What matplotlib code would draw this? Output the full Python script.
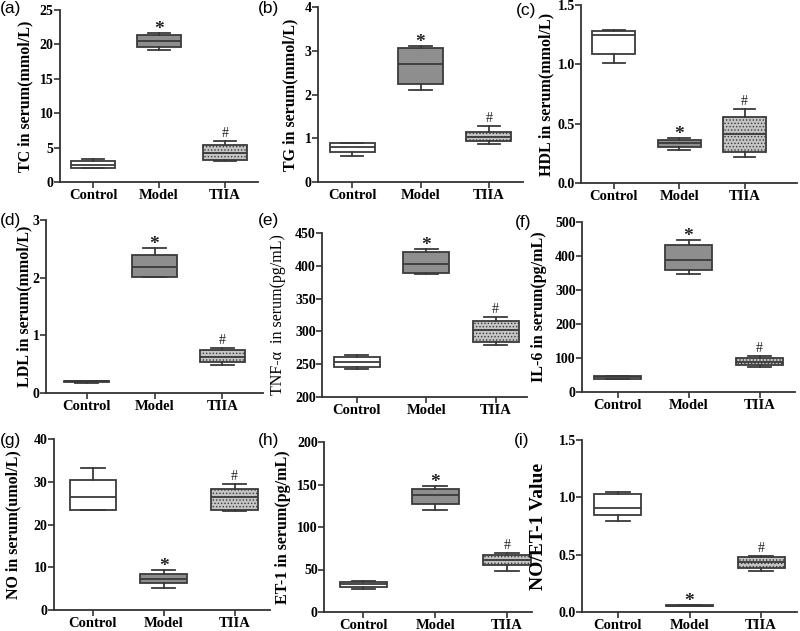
import matplotlib.pyplot as plt
import numpy as np

plt.rcParams['font.family'] = 'Liberation Serif'
plt.rcParams['font.weight'] = 'bold'
plt.rcParams['hatch.color'] = '#8a8a8a'
plt.rcParams['hatch.linewidth'] = 0.6

groups = ['Control', 'Model', 'TIIA']
marks = ['', '*', '#']

# each box: (whisker low, q1, median, q3, whisker high)
tc = [(2.0, 2.1, 2.5, 3.05, 3.35), (19.2, 19.6, 20.5, 21.3, 21.7), (3.05, 3.2, 4.2, 5.4, 6.0)]
tg = [(0.59, 0.69, 0.79, 0.89, 0.89), (2.10, 2.25, 2.70, 3.06, 3.12), (0.88, 0.94, 1.04, 1.15, 1.27)]
hdl = [(1.015, 1.09, 1.25, 1.28, 1.29), (0.275, 0.30, 0.34, 0.36, 0.38), (0.215, 0.26, 0.41, 0.555, 0.62)]
ldl = [(0.18, 0.19, 0.20, 0.21, 0.215), (2.01, 2.02, 2.19, 2.40, 2.51), (0.48, 0.53, 0.62, 0.745, 0.78)]
tnf = [(242, 245.5, 253.5, 260.5, 263.5), (388, 389.5, 403, 421, 426), (280, 284, 301.5, 316.5, 322)]
il6 = [(37, 39, 43, 46, 48), (348, 358, 388, 431, 447), (74.5, 79, 87, 100, 105)]
no = [(23.4, 23.5, 26.4, 30.3, 33.1), (5.25, 6.2, 7.3, 8.45, 9.4), (23.25, 23.4, 26.4, 28.3, 29.5)]
et1 = [(27.6, 30, 32.7, 35.4, 36.6), (119.5, 126.5, 137.4, 145, 148.6), (48.2, 55.6, 61.5, 66.5, 68.9)]
ratio = [(0.795, 0.847, 0.905, 1.026, 1.05), (0.05, 0.052, 0.056, 0.06, 0.062), (0.355, 0.387, 0.434, 0.477, 0.486)]

fills = ['white', '#8e8e8e', '#c4c4c4']
hatches = [None, None, '.....']
edge = '#3a3a3a'

W, H = 800, 631
fig = plt.figure(figsize=(8, 6.31), dpi=100)

# tag, data, ylabel, (ymin, ymax, step), fmt, (left, top, right, bottom) px, xlim, tag pos px, ylabel right edge px
panels = [
    ('(a)', tc, 'TC in serum(mmol/L)', (0, 25, 5), '%g', (60, 10, 258, 182), (-0.5, 2.5), (0, 9), 33),
    ('(b)', tg, 'TG in serum(mmol/L)', (0, 4, 1), '%g', (318, 7, 523, 182), (-0.5, 2.5), (258, 8), 298),
    ('(c)', hdl, 'HDL in serum(mmol/L)', (0, 1.5, 0.5), '%.1f', (581, 5, 797, 183), (-0.5, 2.8), (516, 10), 554),
    ('(d)', ldl, 'LDL in serum(mmol/L)', (0, 3, 1), '%g', (46, 220, 263, 393), (-0.6, 2.6), (0, 220), 32),
    ('(e)', tnf, 'TNF-α  in serum(pg/mL)', (200, 450, 50), '%g', (322, 233, 527, 397), (-0.5, 2.45), (258, 220), 286),
    ('(f)', il6, 'IL-6 in serum(pg/mL)', (0, 500, 100), '%g', (582, 222, 795, 392), (-0.5, 2.5), (515, 222), 547),
    ('(g)', no, 'NO in serum(umol/L)', (0, 40, 10), '%g', (54, 439, 270, 610), (-0.55, 2.5), (0, 440), 21),
    ('(h)', et1, 'ET-1 in serum(pg/mL)', (0, 200, 50), '%g', (324, 442, 532, 612), (-0.55, 2.35), (258, 440), 291),
    ('(i)', ratio, 'NO/ET-1 Value', (0, 1.5, 0.5), '%.1f', (582, 440, 797, 612), (-0.5, 2.5), (514, 440), 547),
]

for tag, data, ylab, (y0, y1, step), fmt, (l, t, r, b), xlim, (tx, ty), yl_right in panels:
    ax = fig.add_axes([l / W, 1 - b / H, (r - l) / W, (b - t) / H])
    stats = []
    for g, (lo, q1, med, q3, hi) in zip(groups, data):
        stats.append(dict(label=g, whislo=lo, q1=q1, med=med, q3=q3, whishi=hi, fliers=[]))
    bp = ax.bxp(stats, positions=[0, 1, 2], widths=0.66, patch_artist=True, showfliers=False,
                boxprops=dict(edgecolor=edge, linewidth=1.3),
                whiskerprops=dict(color=edge, linewidth=1.3),
                capprops=dict(color=edge, linewidth=1.3),
                medianprops=dict(color=edge, linewidth=1.3))
    for patch, fc, hh in zip(bp['boxes'], fills, hatches):
        patch.set_facecolor(fc)
        if hh:
            patch.set_hatch(hh)
    for i, (m, d) in enumerate(zip(marks, data)):
        if m == '*':
            ax.annotate(m, xy=(i, d[4]), xytext=(0, 2.5), textcoords='offset points',
                        ha='center', va='center', fontsize=14, fontweight='bold', color='#222222')
        elif m == '#':
            ax.annotate(m, xy=(i, d[4]), xytext=(0, 5.5), textcoords='offset points',
                        ha='center', va='center', fontsize=10, fontweight='normal', color='#222222')

    ax.set_xlim(*xlim)
    ax.set_ylim(y0, y1)
    ax.set_yticks(np.arange(y0, y1 + step / 2, step))
    ax.yaxis.set_major_formatter(plt.FormatStrFormatter(fmt))
    ax.set_xticks([0, 1, 2])
    ax.set_xticklabels(groups, fontsize=10.5, fontweight='bold')
    for s in ['top', 'right']:
        ax.spines[s].set_visible(False)
    for s in ['left', 'bottom']:
        ax.spines[s].set_linewidth(1.3)
        ax.spines[s].set_color('#333333')
    ax.tick_params(axis='both', direction='out', length=4, width=1.2, color='#333333')
    ax.tick_params(axis='y', labelsize=10, pad=0.5)
    ax.tick_params(axis='x', pad=1)
    for lab in ax.get_yticklabels():
        lab.set_fontweight('bold')

    if tag == '(e)':
        ax.set_ylabel(ylab, fontsize=11.5, fontweight='normal')
    elif tag == '(i)':
        ax.set_ylabel(ylab, fontsize=14, fontweight='bold')
    else:
        ax.set_ylabel(ylab, fontsize=11.5, fontweight='bold')
    ax.yaxis.set_label_coords(yl_right / W, 1 - (t + b) / 2 / H, transform=fig.transFigure)

    fig.text(tx / W, 1 - ty / H, tag, fontsize=12.5, fontweight='normal',
             family='Liberation Sans', ha='left', va='center')

fig.savefig('out.png', dpi=100)
